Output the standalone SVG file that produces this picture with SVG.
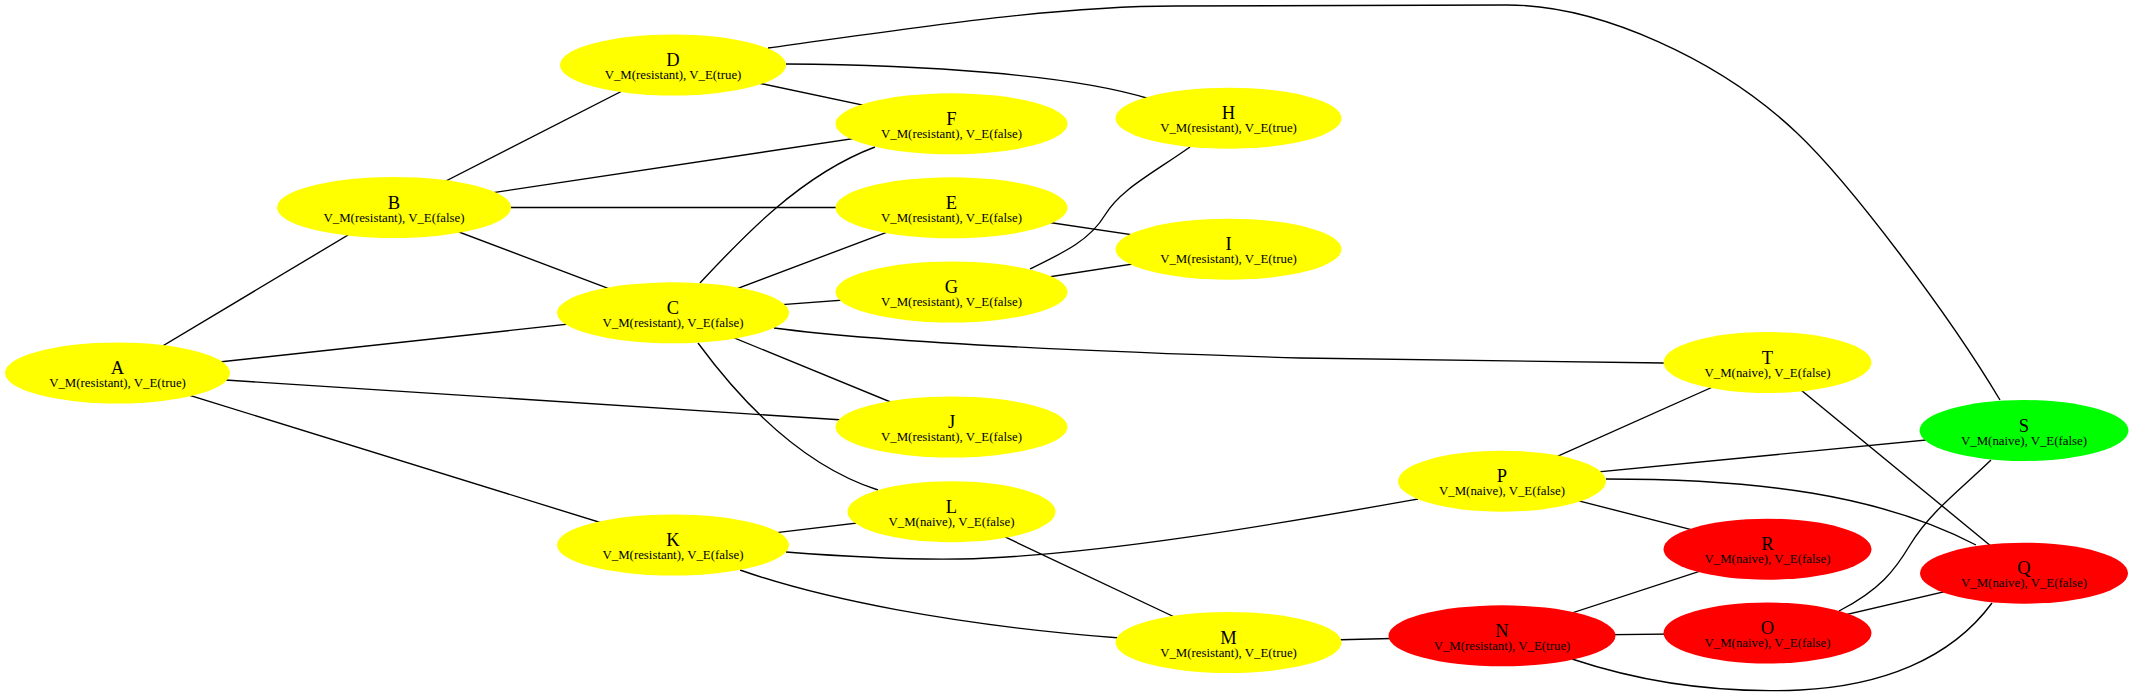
<svg xmlns="http://www.w3.org/2000/svg" width="2130" height="697" viewBox="0 0 2130 697">
<style>
.e{fill:none;stroke:#000;stroke-width:1.36}
.y{fill:#ffff00;stroke:none}
.r{fill:#ff0000;stroke:none}
.g{fill:#00ff00;stroke:none}
.t{font-family:"Liberation Serif","Times New Roman",serif;font-size:18.5px;text-anchor:middle;fill:#000}
.s{font-family:"Liberation Serif","Times New Roman",serif;font-size:12.85px;text-anchor:middle;fill:#000}
</style>
<rect width="2130" height="697" fill="#fff"/>
<g id="edges">
<path class="e" d="M117.5,373 L394,207.5"/>
<path class="e" d="M117.5,373 L673,312.8"/>
<path class="e" d="M117.5,373 L951.5,427"/>
<path class="e" d="M117.5,373 L673,545"/>
<path class="e" d="M394,207.5 L673,65"/>
<path class="e" d="M394,207.5 L951.5,123.8"/>
<path class="e" d="M394,207.5 L951.5,207.5"/>
<path class="e" d="M394,207.5 L673,312.8"/>
<path class="e" d="M673,65 L951.5,123.8"/>
<path class="e" d="M786,64 C920,65 1070,74 1150,99"/>
<path class="e" d="M768,48 C900,30 1050,6 1175,6 L1507,5 C1600,5 1720,60 1797,133 C1850,183 1950,316 2000,400"/>
<path class="e" d="M700,283 C740,240 800,175 875,147"/>
<path class="e" d="M673,312.8 L951.5,207.8"/>
<path class="e" d="M673,312.8 L951.5,292"/>
<path class="e" d="M774,328 C880,342 1100,352 1300,358 L1664,363"/>
<path class="e" d="M673,312.8 L951.5,427"/>
<path class="e" d="M698,343 C740,400 800,465 878,490"/>
<path class="e" d="M951.5,207.8 L1228.5,249.2"/>
<path class="e" d="M1030,269 C1065,252 1090,240 1105,215 C1120,190 1150,175 1190,147"/>
<path class="e" d="M951.5,292 L1228.5,249.2"/>
<path class="e" d="M673,545 L951.5,511.7"/>
<path class="e" d="M786,552 C850,557 900,560 960,559 C1100,556 1300,520 1418,499"/>
<path class="e" d="M740,570 C820,598 950,625 1120,638"/>
<path class="e" d="M951.5,511.7 L1228.5,642.5"/>
<path class="e" d="M1228.5,642.5 L1502,635.8"/>
<path class="e" d="M1502,635.8 L1767.5,549.2"/>
<path class="e" d="M1502,635.8 L1767.5,633"/>
<path class="e" d="M1572,659 C1650,685 1730,693 1800,690 C1880,686 1950,660 1992,603"/>
<path class="e" d="M1502,481.2 L1767.5,362.5"/>
<path class="e" d="M1502,481.2 L2024,430.5"/>
<path class="e" d="M1502,481.2 L1767.5,549.2"/>
<path class="e" d="M1606,479 C1760,479 1880,495 1976,545"/>
<path class="e" d="M1767.5,362.5 L2024,573.2"/>
<path class="e" d="M1839,611 C1880,590 1895,570 1910,545 C1930,512 1960,490 1991,460"/>
<path class="e" d="M1767.5,633 L2024,573.2"/>
</g>
<g id="A"><ellipse class="y" cx="117.5" cy="373" rx="112.5" ry="30.5"/><text class="t" x="117.5" y="374">A</text><text class="s" x="117.5" y="387">V_M(resistant), V_E(true)</text></g>
<g id="B"><ellipse class="y" cx="394" cy="207.5" rx="117" ry="30.5"/><text class="t" x="394" y="208.5">B</text><text class="s" x="394" y="221.5">V_M(resistant), V_E(false)</text></g>
<g id="C"><ellipse class="y" cx="673" cy="312.8" rx="116" ry="30.5"/><text class="t" x="673" y="313.8">C</text><text class="s" x="673" y="326.8">V_M(resistant), V_E(false)</text></g>
<g id="D"><ellipse class="y" cx="673" cy="65" rx="113" ry="30.5"/><text class="t" x="673" y="66">D</text><text class="s" x="673" y="79">V_M(resistant), V_E(true)</text></g>
<g id="E"><ellipse class="y" cx="951.5" cy="207.8" rx="116" ry="30.5"/><text class="t" x="951.5" y="208.8">E</text><text class="s" x="951.5" y="221.8">V_M(resistant), V_E(false)</text></g>
<g id="F"><ellipse class="y" cx="951.5" cy="123.8" rx="116" ry="30.5"/><text class="t" x="951.5" y="124.8">F</text><text class="s" x="951.5" y="137.8">V_M(resistant), V_E(false)</text></g>
<g id="G"><ellipse class="y" cx="951.5" cy="292" rx="116" ry="30.5"/><text class="t" x="951.5" y="293">G</text><text class="s" x="951.5" y="306">V_M(resistant), V_E(false)</text></g>
<g id="H"><ellipse class="y" cx="1228.5" cy="118.2" rx="113" ry="30.5"/><text class="t" x="1228.5" y="119.2">H</text><text class="s" x="1228.5" y="132.2">V_M(resistant), V_E(true)</text></g>
<g id="I"><ellipse class="y" cx="1228.5" cy="249.2" rx="113" ry="30.5"/><text class="t" x="1228.5" y="250.2">I</text><text class="s" x="1228.5" y="263.2">V_M(resistant), V_E(true)</text></g>
<g id="J"><ellipse class="y" cx="951.5" cy="427" rx="116" ry="30.5"/><text class="t" x="951.5" y="428">J</text><text class="s" x="951.5" y="441">V_M(resistant), V_E(false)</text></g>
<g id="K"><ellipse class="y" cx="673" cy="545" rx="116" ry="30.5"/><text class="t" x="673" y="546">K</text><text class="s" x="673" y="559">V_M(resistant), V_E(false)</text></g>
<g id="L"><ellipse class="y" cx="951.5" cy="511.7" rx="104" ry="30.5"/><text class="t" x="951.5" y="512.7">L</text><text class="s" x="951.5" y="525.7">V_M(naive), V_E(false)</text></g>
<g id="M"><ellipse class="y" cx="1228.5" cy="642.5" rx="113" ry="30.5"/><text class="t" x="1228.5" y="643.5">M</text><text class="s" x="1228.5" y="656.5">V_M(resistant), V_E(true)</text></g>
<g id="N"><ellipse class="r" cx="1502" cy="635.8" rx="113.5" ry="30.5"/><text class="t" x="1502" y="636.8">N</text><text class="s" x="1502" y="649.8">V_M(resistant), V_E(true)</text></g>
<g id="O"><ellipse class="r" cx="1767.5" cy="633" rx="104" ry="30.5"/><text class="t" x="1767.5" y="634">O</text><text class="s" x="1767.5" y="647">V_M(naive), V_E(false)</text></g>
<g id="P"><ellipse class="y" cx="1502" cy="481.2" rx="104" ry="30.5"/><text class="t" x="1502" y="482.2">P</text><text class="s" x="1502" y="495.2">V_M(naive), V_E(false)</text></g>
<g id="Q"><ellipse class="r" cx="2024" cy="573.2" rx="104" ry="30.5"/><text class="t" x="2024" y="574.2">Q</text><text class="s" x="2024" y="587.2">V_M(naive), V_E(false)</text></g>
<g id="R"><ellipse class="r" cx="1767.5" cy="549.2" rx="104" ry="30.5"/><text class="t" x="1767.5" y="550.2">R</text><text class="s" x="1767.5" y="563.2">V_M(naive), V_E(false)</text></g>
<g id="S"><ellipse class="g" cx="2024" cy="430.5" rx="104.5" ry="30.5"/><text class="t" x="2024" y="431.5">S</text><text class="s" x="2024" y="444.5">V_M(naive), V_E(false)</text></g>
<g id="T"><ellipse class="y" cx="1767.5" cy="362.5" rx="104" ry="30.5"/><text class="t" x="1767.5" y="363.5">T</text><text class="s" x="1767.5" y="376.5">V_M(naive), V_E(false)</text></g>
</svg>
